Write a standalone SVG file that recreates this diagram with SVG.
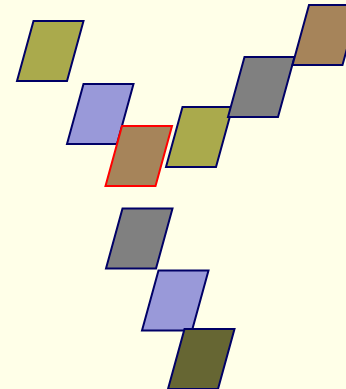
<svg xmlns="http://www.w3.org/2000/svg" width="346" height="389" viewBox="0 0 346 389">
<style>
.p{stroke:#000066;stroke-width:2;stroke-linejoin:miter}
.olive{fill:#aaaa4c}
.blue{fill:#9999d9}
.brown{fill:#a6845a}
.gray{fill:#808080}
.dark{fill:#666633}
.sel{stroke:#ff0000}
</style>
<defs>
<polygon id="pg" points="16.5,0 66.5,0 50,60 0,60"/>
</defs>
<rect width="346" height="389" fill="#ffffe8"/>
<g id="n1"><use href="#pg" class="p olive" x="17" y="21"/></g>
<g id="n2"><use href="#pg" class="p blue" x="67" y="84"/></g>
<g id="n3"><use href="#pg" class="p brown sel" x="105.5" y="126"/></g>
<g id="n4"><use href="#pg" class="p olive" x="166" y="107"/></g>
<g id="n5"><use href="#pg" class="p gray" x="228" y="57"/></g>
<g id="n6"><use href="#pg" class="p brown" x="292.5" y="5"/></g>
<g id="n7"><use href="#pg" class="p gray" x="106" y="208.5"/></g>
<g id="n8"><use href="#pg" class="p blue" x="142" y="270.5"/></g>
<g id="n9"><use href="#pg" class="p dark" x="168" y="329"/></g>
<g id="connectors"/>
</svg>
